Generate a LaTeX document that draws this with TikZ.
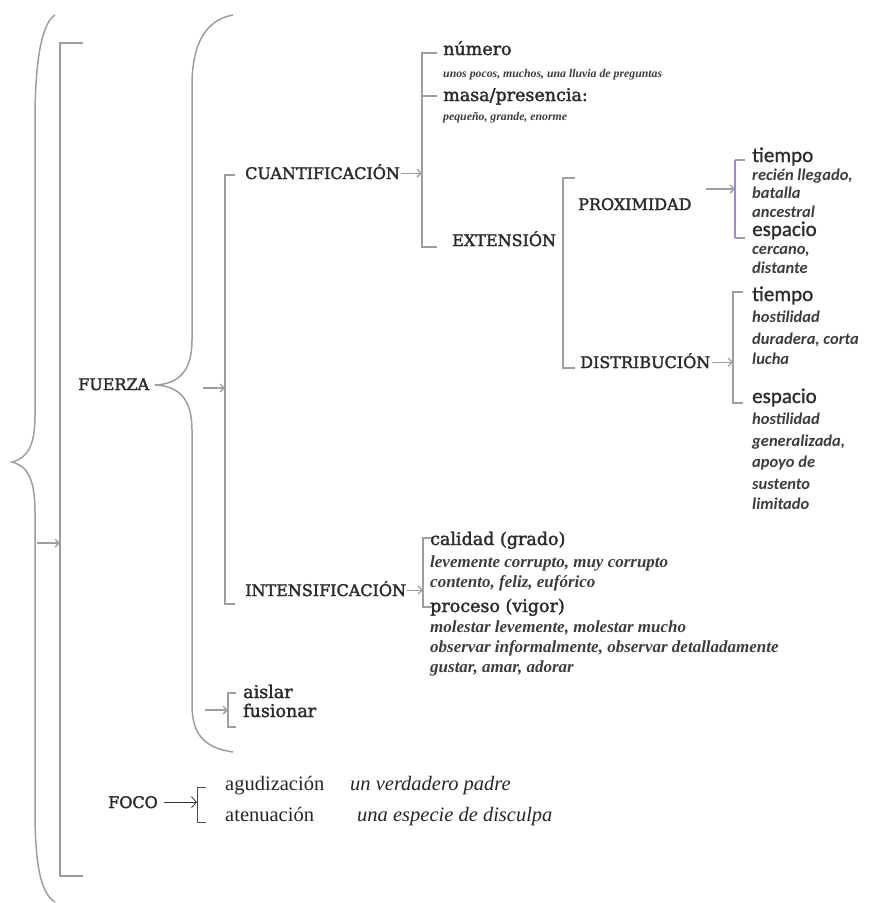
\documentclass[tikz,border=0pt]{standalone}
\usepackage{fontspec}
\setmainfont{DejaVu Serif}
\newfontfamily\lblfont[FakeBold=2]{DejaVu Serif}
\newfontfamily\carl[FakeBold=1]{Carlito}
\newfontfamily\carlit{Carlito}
\newfontfamily\tnr{Liberation Serif}
\usetikzlibrary{arrows.meta}
\definecolor{lg}{HTML}{9E9E9E}
\definecolor{tx}{HTML}{2B2B2B}
\definecolor{tx2}{HTML}{3C3C3C}
\definecolor{bl}{HTML}{8C8FD6}
\begin{document}
\begin{tikzpicture}[x=1pt,y=-1pt,
  every node/.style={anchor=base west, inner sep=0pt, text=tx},
  lbl/.style={font=\lblfont\fontsize{16}{19}\selectfont, text height=11.7pt, text depth=0pt},
  sub/.style={font=\lblfont\fontsize{17.5}{21}\selectfont},
  cal/.style={font=\carl\fontsize{21}{25}\selectfont},
  cali/.style={font=\carlit\bfseries\itshape\fontsize{16.5}{19}\selectfont, text=tx2},
  exs/.style={font=\tnr\bfseries\itshape\fontsize{11.8}{13}\selectfont, text=tx2},
  exm/.style={font=\tnr\bfseries\itshape\fontsize{17}{19}\selectfont, text=tx2},
  tr/.style={font=\tnr\fontsize{20.5}{24}\selectfont, text=black!85},
  tri/.style={font=\tnr\itshape\fontsize{20.5}{24}\selectfont, text=black!85},
  brk/.style={draw=lg, line width=1.5pt},
  arr/.style={draw=lg, line width=1.3pt, -{Straight Barb[length=4pt,width=8pt,line width=1.3pt]}},
  farr/.style={draw=black!80, line width=0.8pt, -{Straight Barb[length=5pt,width=11pt,line width=0.8pt]}},
]
\useasboundingbox (0,0) rectangle (869,903);

% ---------- outer brace and square bracket
\draw[brk] (55,15) .. controls (40,24) and (35,70) .. (35,120) -- (35,415)
  .. controls (35,445) and (28,458) .. (12,462)
  .. controls (28,466) and (35,480) .. (35,512) -- (35,810)
  .. controls (35,862) and (40,893) .. (55,902);
\coordinate (oa) at (37,543);
\coordinate (sq) at (60,43);
\draw[brk] (83,43) -- (60,43) -- (60,876) -- (83,876);
\draw[arr] (oa) -- (oa -| sq);

% ---------- FUERZA
\node[lbl] (fuerza) at (78,390) {FUERZA};
\draw[brk] (233,15) .. controls (205,20) and (192,45) .. (192,85) -- (192,340)
  .. controls (192,372) and (178,384) .. (155,385)
  .. controls (178,386) and (192,398) .. (192,430) -- (192,705)
  .. controls (192,735) and (205,748) .. (233,752);
\coordinate (fa) at (203,388);
\coordinate (b2) at (225,175);
\draw[brk] (235,175) -- (225,175) -- (225,604) -- (235,604);
\draw[arr] (fa) -- (fa -| b2);

% ---------- CUANTIFICACION
\node[lbl] (cuant) at (245,179) {CUANTIFICACIÓN};
\coordinate (b3) at (422,53);
\draw[brk] (437,53) -- (422,53) -- (422,247) -- (437,247);
\draw[brk] (422,96) -- (437,96);
\draw[arr] ([xshift=1pt]cuant.east) -- (cuant.east -| b3);

\node[sub] (numero) at (443,55) {número};
\node[exs] (numex) at (443,77) {unos pocos, muchos, una lluvia de preguntas};
\node[sub] (masa) at (443,101) {masa/presencia:};
\node[exs] (masaex) at (443,120) {pequeño, grande, enorme};

% ---------- EXTENSION
\node[lbl] (ext) at (452,246) {EXTENSIÓN};
\draw[brk] (575,178) -- (563,178) -- (563,368) -- (575,368);

\node[lbl] (prox) at (578,210) {PROXIMIDAD};
\coordinate (pa) at (706,189);
\coordinate (b4) at (735,160);
\draw[draw=lg, line width=1.5pt] (745,160) -- (735,160);
\draw[draw=lg, line width=1.5pt] (735,238) -- (745,238);
\draw[draw=bl, line width=1.5pt] (735,160) -- (735,238);
\draw[arr] (pa) -- (pa -| b4);

\node[cal] (t1) at (752,162) {tiempo};
\node[cali] (t1a) at (752,180) {recién llegado,};
\node[cali] (t1b) at (752,198) {batalla};
\node[cali] (t1c) at (752,217) {ancestral};
\node[cal] (e1) at (752,236) {espacio};
\node[cali] (e1a) at (752,254) {cercano,};
\node[cali] (e1b) at (752,273) {distante};

\node[lbl] (dist) at (580,368) {DISTRIBUCIÓN};
\coordinate (b5) at (733,292);
\draw[brk] (743,292) -- (733,292) -- (733,403) -- (743,403);
\draw[arr] ([xshift=2pt]dist.east) -- (dist.east -| b5);

\node[cal] (t2) at (752,301) {tiempo};
\node[cali] (t2a) at (752,322) {hostilidad};
\node[cali] (t2b) at (752,344) {duradera, corta};
\node[cali] (t2c) at (752,364) {lucha};
\node[cal] (e2) at (752,403) {espacio};
\node[cali] (e2a) at (752,424) {hostilidad};
\node[cali] (e2b) at (752,446) {generalizada,};
\node[cali] (e2c) at (752,467) {apoyo de};
\node[cali] (e2d) at (752,489) {sustento};
\node[cali] (e2e) at (752,509) {limitado};

% ---------- INTENSIFICACION
\node[lbl] (intens) at (245,596) {INTENSIFICACIÓN};
\coordinate (b6) at (423,538);
\draw[brk] (433,538) -- (423,538) -- (423,607) -- (433,607);
\draw[arr] ([xshift=1pt]intens.east) -- (intens.east -| b6);

\node[sub] (calidad) at (430,545) {calidad (grado)};
\node[exm] (cal1) at (430,567) {levemente corrupto, muy corrupto};
\node[exm] (cal2) at (430,587) {contento, feliz, eufórico};
\node[sub] (proceso) at (430,612) {proceso (vigor)};
\node[exm] (pro1) at (430,632) {molestar levemente, molestar mucho};
\node[exm] (pro2) at (430,652) {observar informalmente, observar detalladamente};
\node[exm] (pro3) at (430,672) {gustar, amar, adorar};

% ---------- aislar / fusionar
\coordinate (aa) at (205,710);
\coordinate (b7) at (228,693);
\draw[brk] (236,693) -- (228,693) -- (228,727) -- (236,727);
\draw[arr] (aa) -- (aa -| b7);
\node[sub] (aislar) at (243,698) {aislar};
\node[sub] (fusionar) at (243,717) {fusionar};

% ---------- FOCO
\node[lbl] (foco) at (108,808) {FOCO};
\coordinate (b8) at (197,787);
\draw[draw=black!70, line width=1pt] (206,787) -- (197,787) -- (197,822) -- (206,822);
\draw[farr] ([xshift=6pt]foco.east) -- (foco.east -| b8);
\node[tr] (agud) at (225,790) {agudización};
\node[tr] (aten) at (225,821) {atenuación};
\node[tri] (agudex) at (350,790) {un verdadero padre};
\node[tri] (atenex) at (357,821) {una especie de disculpa};
\end{tikzpicture}
\end{document}
